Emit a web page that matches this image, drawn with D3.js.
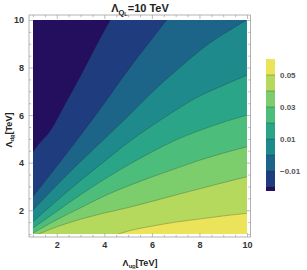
<!DOCTYPE html>
<html><head><meta charset="utf-8">
<script src="https://cdn.jsdelivr.net/npm/d3@7"></script>
<style>body{margin:0;background:#fff}svg{display:block}text{font-family:"Liberation Sans",Arial,sans-serif}</style>
</head><body><svg id="c" width="307" height="270"></svg>
<script>
// contour levels (boundaries) and band colours (band i lies between bandEdges[i] and bandEdges[i+1])
const bandEdges = [-0.0225, -0.02, -0.01, 0.0, 0.01, 0.02, 0.03, 0.04, 0.05, 0.06];
const bandColors = ["#230f5e", "#1f3d7e", "#1c6488", "#1e8a8b", "#2ba588", "#4cbd7b", "#7ccd6c", "#b4d95d", "#ebe35a"];
// contour lines, [Λ_uR, Λ_dR] in TeV
const cM002 = [[1,4.45],[1.3,4.85],[1.7,5.3],[2.4,6.55],[3,7.65],[3.6,8.8],[4.25,10]];
const cM001 = [[1,2.57],[2,3.85],[3,5.15],[4,6.5],[5,7.9],[6,9.2],[6.62,10]];
const c000 = [[1,2.01],[2,3.05],[3,4.05],[4,5.0],[5,5.95],[6,6.95],[7,7.85],[8.45,9.04],[10,10]];
const c001 = [[1,1.52],[2,2.4],[3,3.25],[4,4.05],[5,4.85],[6,5.55],[7,6.2],[8,6.8],[9,7.25],[10,7.68]];
const c002 = [[1,1.25],[2,1.95],[3,2.65],[4,3.3],[5,3.9],[6,4.45],[7,4.95],[8,5.35],[9,5.7],[10,6.0]];
const c003 = [[1,1.04],[2,1.6],[3,2.1],[4,2.6],[5,3.02],[6,3.4],[7,3.75],[8,4.1],[9,4.4],[10,4.67]];
const c004 = [[1.25,1],[2,1.3],[3,1.62],[4,1.88],[5,2.11],[6,2.37],[7,2.64],[8,2.9],[9,3.16],[10,3.41]];
const c005 = [[4.6,1],[5.1,1.15],[6,1.33],[7,1.5],[8,1.63],[9,1.76],[10,1.87]];
const contourLevels = [-0.02, -0.01, 0.0, 0.01, 0.02, 0.03, 0.04, 0.05];
const contourLines = [cM002, cM001, c000, c001, c002, c003, c004, c005];
const majorTicks = [2, 4, 6, 8, 10];
const minorTicks = [1,1.5,2.5,3,3.5,4.5,5,5.5,6.5,7,7.5,8.5,9,9.5];
const barLabels = [0.05, 0.03, 0.01, -0.01];

const svg = d3.select("#c");
const x = d3.scaleLinear().domain([1, 10]).range([33, 247]);
const y = d3.scaleLinear().domain([1, 10]).range([234, 20]);
const fL = 29, fR = 250.5, fT = 15, fB = 237;

svg.append("clipPath").attr("id","clip").append("rect")
  .attr("x", x(1)).attr("y", y(10)).attr("width", x(10)-x(1)).attr("height", y(1)-y(10));
const g = svg.append("g").attr("clip-path","url(#clip)");
// highest band fills everything, then lower-valued regions (top-left of each contour) painted on top
g.append("rect").attr("x", x(1)).attr("y", y(10)).attr("width", x(10)-x(1)).attr("height", y(1)-y(10))
  .attr("fill", bandColors[bandColors.length-1]);
const line = d3.line().x(d=>x(d[0])).y(d=>y(d[1])).curve(d3.curveCatmullRom.alpha(0.5));
const eps = 1e-6;
for (let k = contourLines.length-1; k >= 0; k--) {
  const pts = contourLines[k];
  const first = pts[0], last = pts[pts.length-1];
  const corners = [];
  if (last[0] >= 10-eps && last[1] < 10-eps) corners.push([10,10]);
  corners.push([1,10]);
  if (first[1] <= 1+eps && first[0] > 1+eps) corners.push([1,1]);
  let d = line(pts) + corners.map(c=>"L"+x(c[0])+","+y(c[1])).join("") + "Z";
  const bi = bandEdges.indexOf(contourLevels[k]) - 1;
  g.append("path").attr("d", d).attr("fill", bandColors[bi]).attr("stroke","none");
}
for (const pts of contourLines) {
  g.append("path").attr("d", line(pts)).attr("fill","none")
    .attr("stroke","rgba(30,30,30,0.35)").attr("stroke-width",0.7);
}

// frame
svg.append("rect").attr("x",fL).attr("y",fT).attr("width",fR-fL).attr("height",fB-fT)
  .attr("fill","none").attr("stroke","#a0a0a0").attr("stroke-width",0.8);
function styleAxis(sel){
  sel.select(".domain").remove();
  sel.selectAll(".tick line").attr("stroke","#a0a0a0").attr("stroke-width",0.7);
  sel.selectAll(".tick text").attr("fill","#333").attr("font-size","9px").attr("font-weight","bold");
}
const axes = [
  [d3.axisBottom(x), `translate(0,${fB})`, true],
  [d3.axisTop(x), `translate(0,${fT})`, false],
  [d3.axisLeft(y), `translate(${fL},0)`, true],
  [d3.axisRight(y), `translate(${fR},0)`, false]
];
for (const [ax, tr, lab] of axes) {
  svg.append("g").attr("transform",tr)
    .call(ax.tickValues(majorTicks).tickSize(-4).tickPadding(lab?5:0).tickFormat(lab?d3.format("d"):""))
    .call(styleAxis);
  svg.append("g").attr("transform",tr)
    .call(ax.tickValues(minorTicks).tickSize(-2.2).tickFormat(""))
    .call(styleAxis);
}

// title
const t = svg.append("text").attr("x",140).attr("y",12).attr("text-anchor","middle")
  .attr("font-size","11px").attr("font-weight","bold").attr("fill","#222");
t.append("tspan").text("Λ");
t.append("tspan").attr("font-size","7.5px").attr("dy",2.5).text("Q");
t.append("tspan").attr("font-size","5.5px").attr("dy",1.5).text("L");
t.append("tspan").attr("dy",-4).text("=10 TeV");

// x label
const xl = svg.append("text").attr("x",140).attr("y",266).attr("text-anchor","middle")
  .attr("font-size","9px").attr("font-weight","bold").attr("fill","#222");
xl.append("tspan").text("Λ");
xl.append("tspan").attr("font-size","6px").attr("dy",2).text("u");
xl.append("tspan").attr("font-size","4.5px").attr("dy",1).text("R");
xl.append("tspan").attr("dy",-3).text("[TeV]");
// y label
const yl = svg.append("text").attr("transform","translate(12,130) rotate(-90)").attr("text-anchor","middle")
  .attr("font-size","9px").attr("font-weight","bold").attr("fill","#222");
yl.append("tspan").text("Λ");
yl.append("tspan").attr("font-size","6px").attr("dy",2).text("d");
yl.append("tspan").attr("font-size","4.5px").attr("dy",1).text("R");
yl.append("tspan").attr("dy",-3).text("[TeV]");

// colour bar
const cb = d3.scaleLinear().domain([bandEdges[0], bandEdges[bandEdges.length-1]]).range([191, 59]);
const bx = 266, bw = 9;
for (let i = 0; i < bandColors.length; i++) {
  svg.append("rect").attr("x",bx).attr("y",cb(bandEdges[i+1])).attr("width",bw)
    .attr("height",cb(bandEdges[i])-cb(bandEdges[i+1])).attr("fill",bandColors[i]);
}
for (const v of contourLevels) {
  svg.append("line").attr("x1",bx).attr("x2",bx+bw).attr("y1",cb(v)).attr("y2",cb(v))
    .attr("stroke","rgba(30,30,30,0.35)").attr("stroke-width",0.8);
}
svg.append("g").selectAll("text").data(barLabels).join("text")
  .attr("x",280).attr("y",d=>cb(d)).attr("dy","0.35em")
  .attr("font-size","8px").attr("font-weight","bold").attr("fill","#555")
  .text(d=>d3.format(".2f")(d).replace("-","−"));
</script></body></html>
